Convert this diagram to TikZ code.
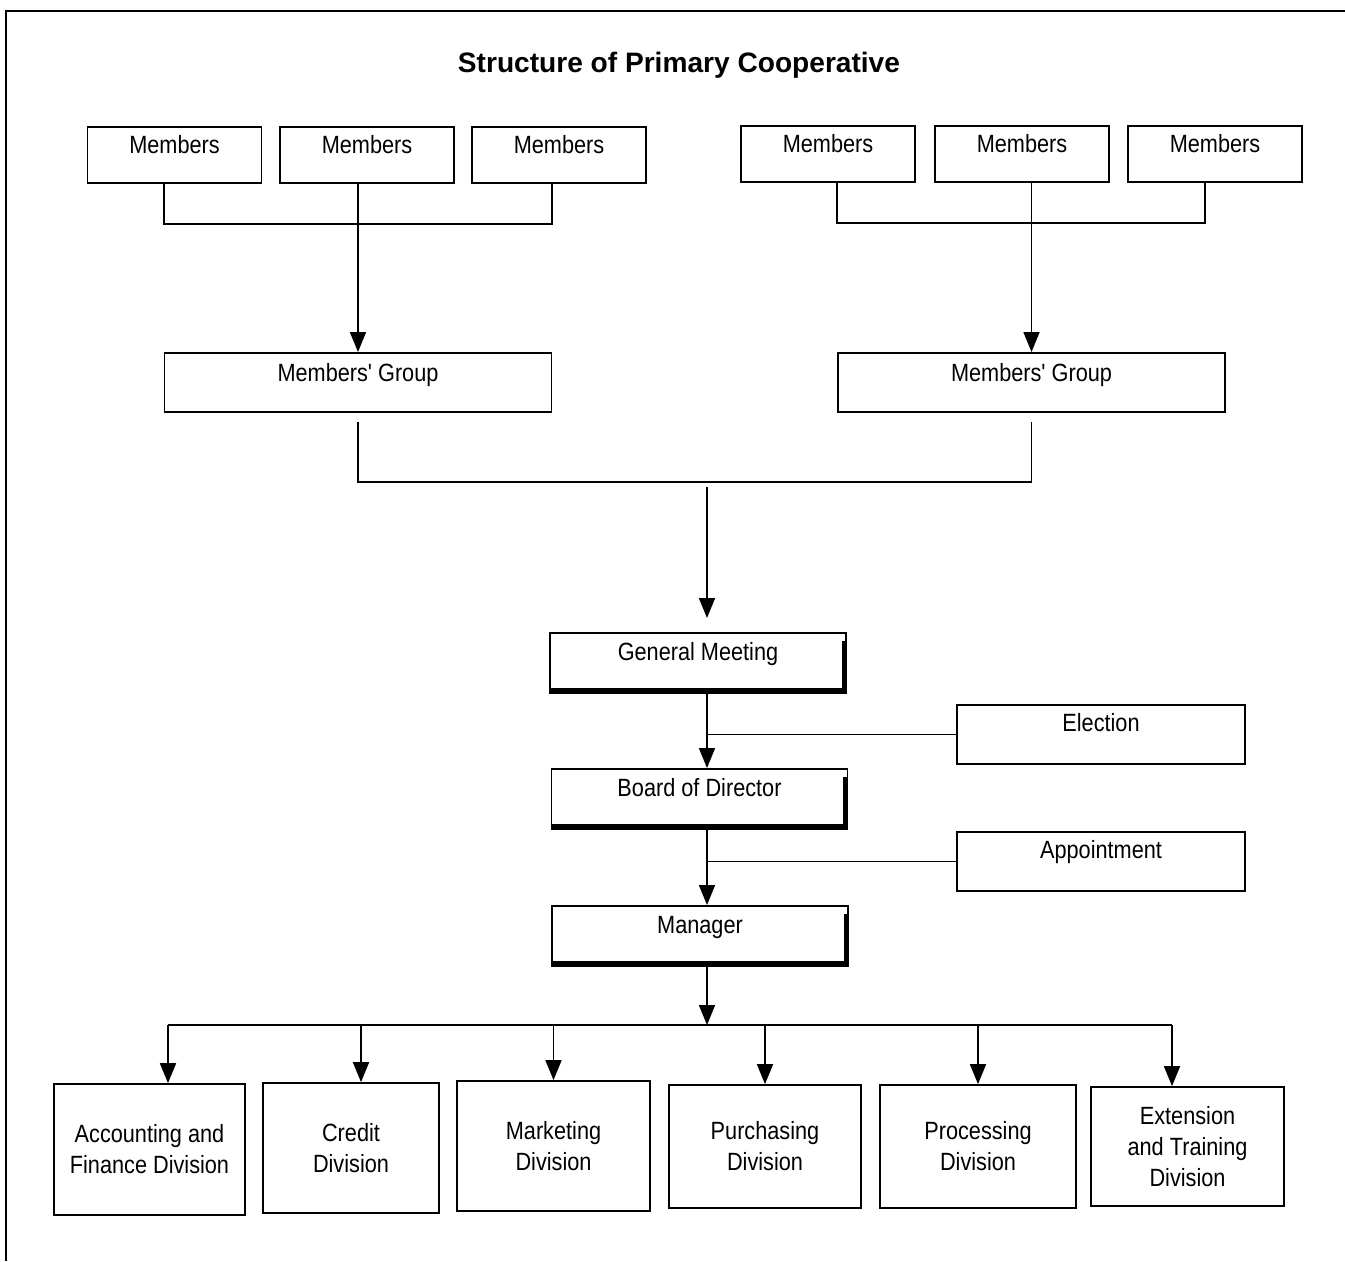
\documentclass[tikz,border=0pt]{standalone}
\usepackage{fontspec}
\setmainfont{Liberation Sans}
\newfontfamily\narrowfont[FakeStretch=0.87]{Liberation Sans}
\usetikzlibrary{arrows.meta}
\tikzset{>={Triangle[length=0.4cm,width=0.32cm]}}
\tikzset{
  box/.style = {draw, line width=1pt, inner xsep=0pt, inner ysep=0pt,
    font=\narrowfont\fontsize{14.2}{17.6}\selectfont},
  member/.style = {box, anchor=north, minimum width=3.48cm, text height=0.54cm, text depth=0.58cm},
  group/.style = {box, anchor=north, minimum width=7.74cm, text height=0.58cm, text depth=0.6cm},
  office/.style = {box, anchor=north, minimum width=5.92cm, text height=0.56cm, text depth=0.64cm,
    path picture={\draw[line width=5pt] ([yshift=-0.16cm]path picture bounding box.north east)
      -- (path picture bounding box.south east) -- (path picture bounding box.south west);}},
  side/.style = {box, anchor=north, minimum width=5.76cm, text height=0.54cm, text depth=0.64cm},
  division/.style = {box, align=center}
}

\begin{document}
\begin{tikzpicture}[x=0.02cm,y=-0.02cm,line width=1pt]
  \useasboundingbox (0,0) rectangle (1345,1261);
  \draw (6,1261) -- (6,11) -- (1345,11);
  \node[anchor=base,font=\fontsize{16}{19}\selectfont\bfseries] (title) at (679,72) {Structure of Primary Cooperative};

  % members
  \node[member] (m1) at (174.5,126) {Members};
  \node[member] (m2) at (367,126) {Members};
  \node[member] (m3) at (559,126) {Members};
  \node[member] (m4) at (828,125) {Members};
  \node[member] (m5) at (1022,125) {Members};
  \node[member] (m6) at (1215,125) {Members};
  \node[group] (g1) at (358,352) {Members' Group};
  \node[group] (g2) at (1031.5,352) {Members' Group};

  \draw (m1.south -| g1.west) -- ++(0,40) -| (m3.south -| g1.east);
  \draw (m4.south -| g2.west) -- ++(0,40) -| ([xshift=-0.2cm]m6.south);
  \draw[->] (m2.south -| g1.north) -- (g1.north);
  \draw[->] (m5.south -| g2.north) -- (g2.north);
  \draw ([yshift=-0.18cm]g1.south) -- ++(0,60) -| ([yshift=-0.18cm]g2.south);

  % meeting, board, manager
  \node[office] (gm) at (698,632) {General Meeting};
  \node[office] (bod) at (699.5,768) {Board of Director};
  \node[office] (mgr) at (700,905) {Manager};
  \node[side] (elect) at (1101,704) {Election};
  \node[side] (appt) at (1101,831) {Appointment};

  \coordinate (join) at (707,487);
  \draw[->] (join) -- ++(0,131);
  \draw[->] (gm.south -| join) -- (bod.north -| join);
  \draw (elect.west) -- (elect.west -| join);
  \draw[->] (bod.south -| join) -- (mgr.north -| join);
  \draw (appt.west) -- (appt.west -| join);

  % divisions
  \node[division,minimum width=3.82cm,minimum height=2.62cm] (acc) at (149.5,1149.5) {Accounting and\\Finance Division};
  \node[division,minimum width=3.52cm,minimum height=2.6cm] (cred) at (351,1148) {Credit\\Division};
  \node[division,minimum width=3.86cm,minimum height=2.6cm] (mkt) at (553.5,1146) {Marketing\\Division};
  \node[division,minimum width=3.84cm,minimum height=2.46cm] (pur) at (765,1146.5) {Purchasing\\Division};
  \node[division,minimum width=3.92cm,minimum height=2.46cm] (pro) at (978,1146.5) {Processing\\Division};
  \node[division,minimum width=3.86cm,minimum height=2.38cm] (ext) at (1187.5,1146.5) {Extension\\and Training\\Division};

  \coordinate (bus) at (707,1025);
  \draw[->] (mgr.south -| bus) -- (bus);
  \draw ([xshift=0.37cm]acc.north |- bus) -- ([xshift=-0.31cm]ext.north |- bus);
  \draw[->] ([xshift=0.37cm]acc.north |- bus) -- ([xshift=0.37cm]acc.north);
  \draw[->] ([xshift=0.2cm]cred.north |- bus) -- ([xshift=0.2cm]cred.north);
  \draw[->] (mkt.north |- bus) -- (mkt.north);
  \draw[->] (pur.north |- bus) -- (pur.north);
  \draw[->] (pro.north |- bus) -- (pro.north);
  \draw[->] ([xshift=-0.31cm]ext.north |- bus) -- ([xshift=-0.31cm]ext.north);
\end{tikzpicture}
\end{document}
